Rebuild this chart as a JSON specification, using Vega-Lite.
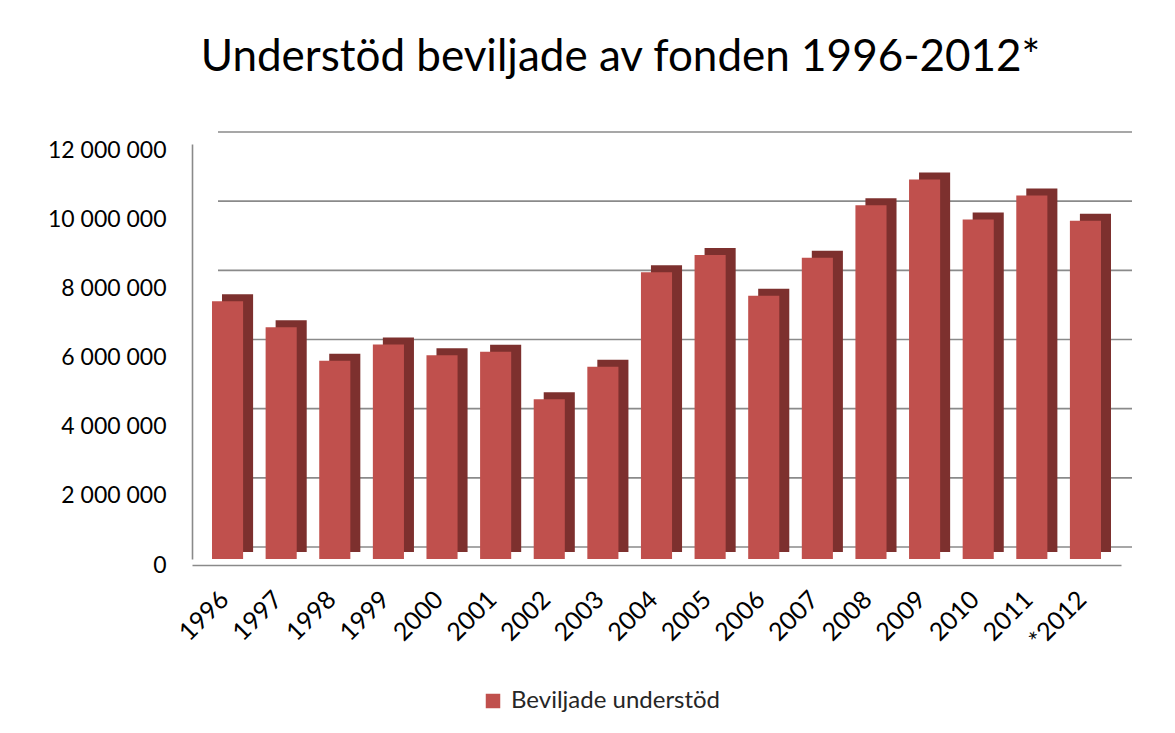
{
  "$schema": "https://vega.github.io/schema/vega-lite/v6.json",
  "autosize": "none",
  "width": 929,
  "height": 415,
  "padding": {"left": 192, "top": 144, "right": 54, "bottom": 174},
  "background": "white",
  "config": {
    "locale": {"number": {"decimal": ",", "thousands": " ", "grouping": [3], "currency": ["", ""]}},
    "view": {"stroke": null},
    "font": "Lato"
  },
  "title": {
    "text": "Understöd beviljade av fonden 1996-2012*",
    "font": "Lato",
    "fontSize": 44,
    "fontWeight": "normal",
    "color": "#000000",
    "anchor": "middle",
    "frame": "group",
    "dx": -36,
    "offset": 51
  },
  "datasets": {
    "bidrag": [
      {"ar": "1996", "belopp": 7450000},
      {"ar": "1997", "belopp": 6700000},
      {"ar": "1998", "belopp": 5730000},
      {"ar": "1999", "belopp": 6200000},
      {"ar": "2000", "belopp": 5890000},
      {"ar": "2001", "belopp": 5990000},
      {"ar": "2002", "belopp": 4620000},
      {"ar": "2003", "belopp": 5560000},
      {"ar": "2004", "belopp": 8290000},
      {"ar": "2005", "belopp": 8790000},
      {"ar": "2006", "belopp": 7610000},
      {"ar": "2007", "belopp": 8710000},
      {"ar": "2008", "belopp": 10230000},
      {"ar": "2009", "belopp": 10970000},
      {"ar": "2010", "belopp": 9820000},
      {"ar": "2011", "belopp": 10510000},
      {"ar": "*2012", "belopp": 9780000}
    ],
    "grid": [
      {"v": 0}, {"v": 2000000}, {"v": 4000000}, {"v": 6000000},
      {"v": 8000000}, {"v": 10000000}, {"v": 12000000}
    ]
  },
  "layer": [
    {
      "data": {"name": "grid"},
      "mark": {"type": "rule", "color": "#8a8a8a", "strokeWidth": 1.6, "xOffset": 6, "x2Offset": 31, "yOffset": -12},
      "encoding": {
        "x": {"datum": "1996", "bandPosition": 0},
        "x2": {"datum": "*2012", "bandPosition": 1},
        "y": {"field": "v", "type": "quantitative", "scale": {"domain": [0, 12000000], "nice": false, "zero": true}}
      }
    },
    {
      "data": {"name": "bidrag"},
      "mark": {"type": "bar", "color": "#7d302e", "xOffset": 10, "yOffset": -7, "y2Offset": -7},
      "encoding": {
        "x": {
          "field": "ar", "type": "nominal", "sort": null,
          "scale": {
            "type": "band", "paddingInner": 0.42, "paddingOuter": 0.373,
            "domain": ["1996", "1997", "1998", "1999", "2000", "2001", "2002", "2003", "2004", "2005", "2006", "2007", "2008", "2009", "2010", "2011", "*2012"]
          }
        },
        "y": {"field": "belopp", "type": "quantitative"}
      }
    },
    {
      "data": {"name": "bidrag"},
      "mark": {"type": "bar"},
      "encoding": {
        "x": {
          "field": "ar", "type": "nominal", "sort": null,
          "axis": {
            "title": null, "labelAngle": -45, "labelAlign": "right", "labelBaseline": "middle",
            "labelFont": "Lato", "labelFontSize": 25, "labelColor": "#000000", "labelPadding": 30,
            "labelOffset": -3,
            "ticks": false, "domainColor": "#8a8a8a", "domainWidth": 1.6, "offset": 6
          }
        },
        "y": {
          "field": "belopp", "type": "quantitative",
          "axis": {
            "title": null, "grid": false, "ticks": false, "format": ",d",
            "values": [0, 2000000, 4000000, 6000000, 8000000, 10000000, 12000000],
            "labelFont": "Lato", "labelFontSize": 23, "labelColor": "#000000", "labelPadding": 26,
            "labelOffset": 6, "domainColor": "#8a8a8a", "domainWidth": 1.6
          }
        },
        "color": {
          "datum": "Beviljade understöd",
          "scale": {"range": ["#c0504d"]},
          "legend": {
            "title": null, "orient": "none", "legendX": 289, "legendY": 545,
            "symbolType": "square", "symbolSize": 210, "symbolStrokeWidth": 0,
            "labelFont": "Lato", "labelFontSize": 24, "labelColor": "#262626", "labelOffset": 6,
            "labelLimit": 600
          }
        }
      }
    }
  ]
}
